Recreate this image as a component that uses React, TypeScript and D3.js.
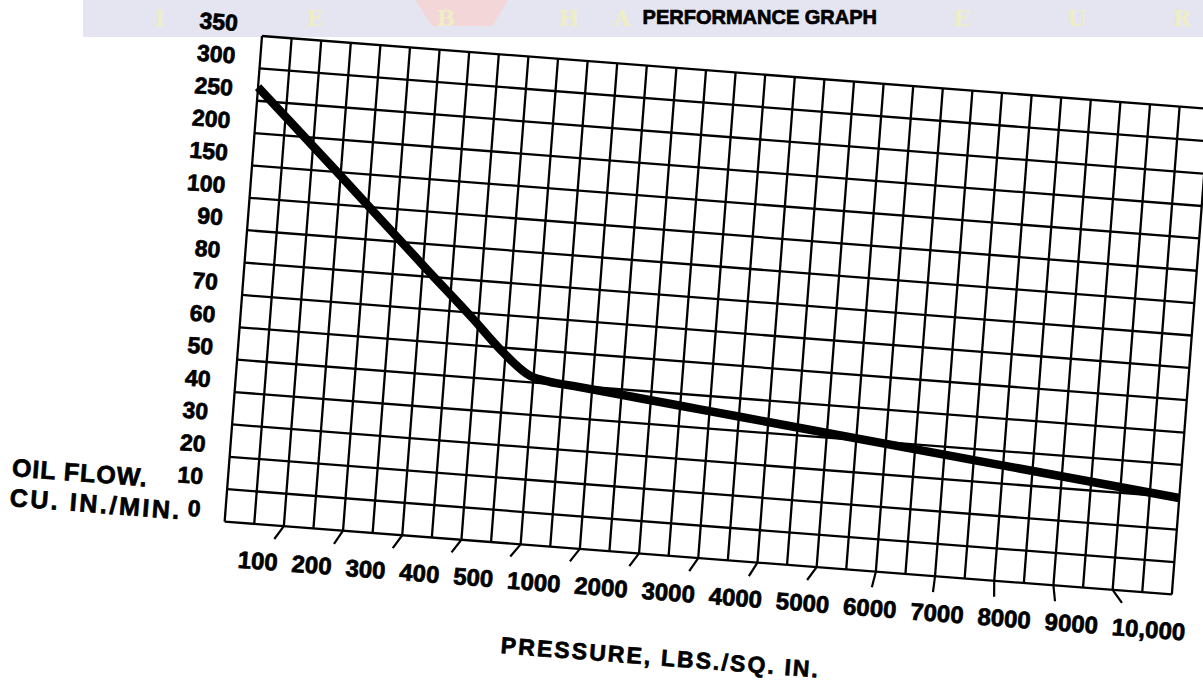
import React from "react";
import * as d3 from "d3";

// ---------- data ----------
const chartTitle = "PERFORMANCE GRAPH";
const xAxisTitle = "PRESSURE, LBS./SQ. IN.";
const yAxisTitleLines = ["OIL FLOW.", "CU. IN./MIN."];

const pressureTicks = [100, 200, 300, 400, 500, 1000, 2000, 3000, 4000, 5000, 6000, 7000, 8000, 9000, 10000];
const pressureTickLabels = ["100", "200", "300", "400", "500", "1000", "2000", "3000", "4000", "5000", "6000", "7000", "8000", "9000", "10,000"];
const pressureDomainEnds = [0, 11000];

const flowTicks = [0, 10, 20, 30, 40, 50, 60, 70, 80, 90, 100, 150, 200, 250, 300, 350];
const flowTickLabels = ["0", "10", "20", "30", "40", "50", "60", "70", "80", "90", "100", "150", "200", "250", "300", "350"];

const curvePressure = [0, 145, 306, 390, 443, 494, 640, 837, 1815, 2835, 4200, 7430, 11000];
const curveFlow = [271, 149, 82.4, 68.3, 59, 52, 50.6, 49.9, 47.7, 45.7, 43.0, 36.7, 29.8];

const watermarkLetters = ["I", "E", "B", "H", "A", "E", "U", "R"];

// ---------- layout / style ----------
const W = 950;
const H = 487;
const COLS = 32;
const ROWS = 15;
const colW = W / COLS;
const rowH = H / ROWS;
const ROT = 4.4;
const FONT = "'Liberation Sans', Arial, Helvetica, sans-serif";
const tickLean = [-32, -30, -32, -34, -36, -34, -33, -30, -28, -32, -10, -3, 4, 10, 40];
const watermarkX = [160, 315, 446, 569, 622, 962, 1077, 1182];

const xScale = d3
  .scaleLinear()
  .domain([pressureDomainEnds[0], ...pressureTicks, pressureDomainEnds[1]])
  .range(d3.range(0, COLS + 1, 2).map((i) => i * colW));

const yScale = d3
  .scaleLinear()
  .domain(flowTicks)
  .range(d3.range(ROWS, -1, -1).map((i) => i * rowH));

export default function App() {
  const vLines = d3.range(COLS + 1).map((i) => i * colW);
  const hLines = d3.range(ROWS + 1).map((i) => i * rowH);
  const pts: [number, number][] = curvePressure.map((p, i) => [xScale(p), yScale(curveFlow[i])]);
  const line = d3.line().curve(d3.curveMonotoneX);
  const path = line(pts) || "";
  const heavy = { stroke: "#000", strokeWidth: 0.7 };

  return (
    <svg
      width={1203}
      height={682}
      style={{ position: "absolute", left: 0, top: 0, background: "#fff" }}
      fontFamily={FONT}
    >
      <rect x={0} y={0} width={1203} height={682} fill="#fff" />
      {/* watermark band */}
      <rect x={83} y={0} width={1120} height={37} fill="#e5e5f1" />
      <polygon points="415,0 508,0 492,26 432,26" fill="#f3d6d8" />
      {watermarkLetters.map((l, i) => (
        <text
          key={i}
          x={watermarkX[i]}
          y={26}
          fontSize={22}
          fontFamily="'DejaVu Serif', serif"
          fontWeight="bold"
          textAnchor="middle"
          fill="#efedc4"
        >
          {l}
        </text>
      ))}
      {/* title */}
      <text x={877} y={24} fontSize={20} fontWeight="bold" textAnchor="end" fill="#000" {...heavy}>
        {chartTitle}
      </text>

      <g transform={`translate(262,36) rotate(${ROT})`}>
        {/* grid */}
        {vLines.map((x, i) => (
          <line key={"v" + i} x1={x} x2={x} y1={0} y2={H} stroke="#000" strokeWidth={2.3} />
        ))}
        {hLines.map((y, i) => (
          <line key={"h" + i} x1={0} x2={W} y1={y} y2={y} stroke="#000" strokeWidth={2.3} />
        ))}

        {/* x ticks */}
        {pressureTicks.map((p, i) => {
          const x = xScale(p);
          const a = (tickLean[i] * Math.PI) / 180;
          const len = 16;
          return (
            <line
              key={"t" + i}
              x1={x}
              y1={H}
              x2={x + Math.sin(a) * len}
              y2={H + Math.cos(a) * len}
              stroke="#000"
              strokeWidth={2.2}
            />
          );
        })}

        {/* curve */}
        <path d={path} fill="none" stroke="#000" strokeWidth={8.5} strokeLinejoin="round" />

        {/* y tick labels */}
        {flowTicks.map((v, i) => (
          <text
            key={"yl" + i}
            x={-25}
            y={yScale(v) - 3}
            fontSize={23}
            fontWeight="bold"
            textAnchor="end"
            fill="#000"
            {...heavy}
          >
            {flowTickLabels[i]}
          </text>
        ))}

        {/* x tick labels: typeset as a row */}
        <text x={16} y={532} fontSize={24} fontWeight="bold" fill="#000" {...heavy}>
          {pressureTickLabels.map((l, i) => (
            <tspan key={"xl" + i} dx={i === 0 ? 0 : 14}>
              {l}
            </tspan>
          ))}
        </text>

        {/* axis titles */}
        <text
          x={285}
          y={597}
          fontSize={23}
          fontWeight="bold"
          textLength={318}
          lengthAdjust="spacing"
          fill="#000"
          {...heavy}
        >
          {xAxisTitle}
        </text>
        <text
          x={-216}
          y={458}
          fontSize={25}
          fontWeight="bold"
          textLength={135}
          lengthAdjust="spacing"
          fill="#000"
          {...heavy}
        >
          {yAxisTitleLines[0]}
        </text>
        <text
          x={-216}
          y={488}
          fontSize={25}
          fontWeight="bold"
          textLength={170}
          lengthAdjust="spacing"
          fill="#000"
          {...heavy}
        >
          {yAxisTitleLines[1]}
        </text>
      </g>
    </svg>
  );
}
